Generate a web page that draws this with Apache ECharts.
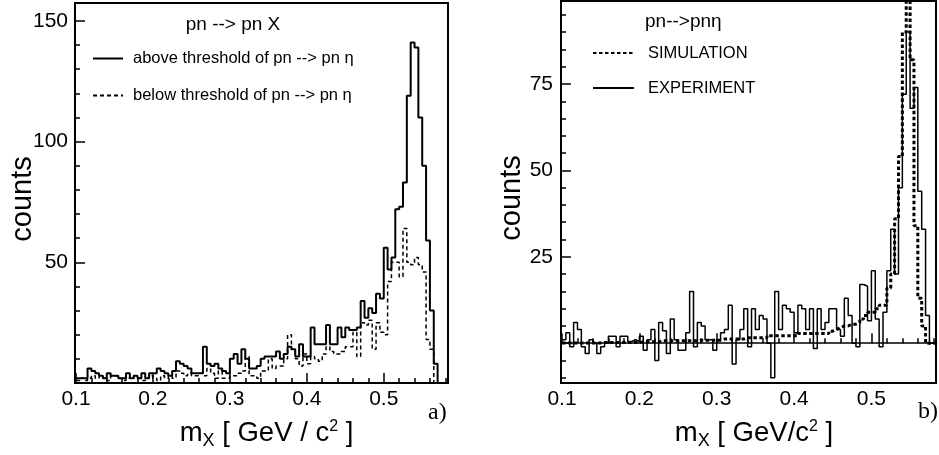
<!DOCTYPE html>
<html><head><meta charset="utf-8">
<script src="https://cdn.jsdelivr.net/npm/echarts@6/dist/echarts.min.js"></script>
<style>html,body{margin:0;padding:0;background:#fff}#c{width:939px;height:455px}</style>
</head><body><div id="c"></div>
<script>
// ---------- data (bin contents) ----------
const binWidth = 0.005;
const leftBinStart = 0.1;    // panel a) bins: 0.100 ... 0.580
const aboveThreshold = [2,2,2,6,5,4,3,2,4,3, 3,2,2,4,2,3,2,4,2,4, 4,6,5,4,3,5,9,8,7,6,
  4,4,4,15,8,7,8,6,5,4, 10,12,8,14,10,6,6,7,10,11, 11,11,13,10,12,15,14,11,16,11,
  11,23,16,16,16,24,16,16,23,19, 23,22,22,23,34,27,31,29,37,35, 56,47,52,72,73,83,119,141,139,110,
  90,59,30,8,0,0];
const belowThreshold = [1,2,1,2,3,2,3,2,1,3, 3,2,1,2,3,2,2,1,2,3, 2,1,3,2,3,2,5,4,3,4,
  3,3,4,3,6,4,2,5,2,2, 3,3,4,5,11,3,3,2,5,5, 10,6,7,7,10,20,14,10,7,12,
  8,11,10,9,12,15,13,12,12,13, 15,15,21,11,25,24,26,14,25,21, 20,42,50,50,44,64,50,49,52,49,
  46,18,14,0,0,0];
const rightBinStart = 0.1;   // panel b) bins: 0.100 ... 0.585
const experiment = [1,3,-1,6,4,-1,-3,1,0,-3, -1,0,2,2,-1,2,2,0.5,1,0.5, 2,-2,1,4,-5,6,3.6,-3,7,1,
  -2,-2,3,15,-1,6,5,1,1,-2, 1,3,4,11,-6,1,4,10,-1,10, 4,8,7,0,-10,15,4,11,10,9,
  3,11,10,4,10,-1.5,10,4,6,10, 10,4,2,13,8,0,-1,17,16.5,6.5, 21,7,-1,9,21,33,20,45,72,90,
  68,74,44,33,8,0,0];
const simulation = [0.1,0.1,0.1,0.1,0.1,0.1,0.1,0.1,0.1,0.1, 0.2,0.2,0.2,0.2,0.2,0.2,0.2,0.2,0.2,0.2,
  0.4,0.4,0.4,0.4,0.4,0.7,0.7,0.7,0.7,0.7, 0.7,0.7,0.7,0.7,0.7,0.9,0.9,0.9,0.9,0.9,
  0.9,1.2,1.2,1.2,1.2,1.2,1.2,1.6,1.6,1.6, 1.6,1.6,1.6,2.2,2.2,2.2,2.2,2.2,2.2,2.2,
  2.2,2.8,2.8,2.8,2.8,2.8,2.8,2.8,2.8,3.5, 4,4.5,5,5,5.5,5.5,6,7,8,9,
  9,10,11,11,16,20,36,54,90,125, 82,34,13,5,0,0,0];
const xTickLabels = [0.1, 0.2, 0.3, 0.4, 0.5];
const leftYTickLabels = [50, 100, 150];
const rightYTickLabels = [25, 50, 75];
const rightYMajorTicks = [0, 25, 50, 75];

// ---------- helpers ----------
function stepData(start, values) {
  const pts = values.map((v, i) => [+(start + i * binWidth).toFixed(4), v]);
  pts.push([+(start + values.length * binWidth).toFixed(4), values[values.length - 1]]);
  return pts;
}
function minorList(from, to, step, every) {
  const out = [];
  for (let i = from; i <= to; i++) if (i % every !== 0) out.push(+(i * step).toFixed(3));
  return out;
}
const xMinor = minorList(5, 29, 0.02, 5);
const leftYMinor = minorList(1, 15, 10, 5);
const rightYMinor = minorList(-2, 19, 5, 5);

const FONT = 'Liberation Sans, Arial, Helvetica, sans-serif';
const SERIF = 'Liberation Serif, DejaVu Serif, serif';
const XR = [0.0987, 0.5835];
const LY = [0, 157.4], RY = [-11.5, 99];

function majorX(grid, name, pad) {
  return {
    gridIndex: grid, type: 'value', position: 'bottom', min: XR[0], max: XR[1],
    axisLine: { show: false }, splitLine: { show: false },
    axisTick: { inside: true, length: 10, customValues: xTickLabels, lineStyle: { color: '#000', width: 1.5 } },
    axisLabel: { customValues: xTickLabels, formatter: v => v.toFixed(1), color: '#000', fontSize: 21, fontFamily: FONT, margin: 6 },
    name: name, nameLocation: 'middle', nameGap: 36,
    nameTextStyle: {
      color: '#000', fontFamily: FONT, padding: [0, 0, 0, pad],
      rich: {
        m: { fontSize: 27.5, fontFamily: FONT, color: '#000', verticalAlign: 'top', padding: [0, 0, 3, 0] },
        s: { fontSize: 18, fontFamily: FONT, color: '#000', verticalAlign: 'bottom' },
        p: { fontSize: 16, fontFamily: FONT, color: '#000', verticalAlign: 'top' }
      }
    }
  };
}
function minorX(grid) {
  return {
    gridIndex: grid, type: 'value', position: 'bottom', min: XR[0], max: XR[1],
    axisLine: { show: false }, splitLine: { show: false }, axisLabel: { show: false },
    axisTick: { inside: true, length: 5, customValues: xMinor, lineStyle: { color: '#000', width: 1.5 } }
  };
}
function majorY(grid, ext, ticks, labels, gap, margin) {
  return {
    gridIndex: grid, type: 'value', position: 'left', min: ext[0], max: ext[1],
    axisLine: { show: false }, splitLine: { show: false },
    axisTick: { inside: true, length: 10, customValues: ticks, lineStyle: { color: '#000', width: 1.5 } },
    axisLabel: { customValues: labels, color: '#000', fontSize: 21, fontFamily: FONT, margin: margin },
    name: 'counts', nameLocation: 'middle', nameRotate: 90, nameGap: gap, nameMoveOverlap: false,
    nameTextStyle: { color: '#000', fontSize: 29, fontFamily: FONT, padding: [0, 12, 0, 0] }
  };
}
function minorY(grid, ext, list) {
  return {
    gridIndex: grid, type: 'value', position: 'left', min: ext[0], max: ext[1],
    axisLine: { show: false }, splitLine: { show: false }, axisLabel: { show: false },
    axisTick: { inside: true, length: 5, customValues: list, lineStyle: { color: '#000', width: 1.5 } }
  };
}

const chart = echarts.init(document.getElementById('c'), null, { renderer: 'canvas' });
chart.setOption({
  animation: false,
  backgroundColor: '#fff',
  grid: [
    { left: 75, top: 3, width: 373, height: 384.5, show: true, borderColor: '#000', borderWidth: 2 },
    { left: 561, top: 1, width: 375, height: 387, show: true, borderColor: '#000', borderWidth: 2 }
  ],
  xAxis: [
    majorX(0, '{m|m}{s|X}{m| [ GeV / c}{p|2}{m| ]}', 10),
    minorX(0),
    majorX(1, '{m|m}{s|X}{m| [ GeV/c}{p|2}{m| ]}', 11),
    minorX(1)
  ],
  yAxis: [
    majorY(0, LY, leftYTickLabels, leftYTickLabels, 38, 7),
    minorY(0, LY, leftYMinor),
    majorY(1, RY, rightYMajorTicks, rightYTickLabels, 35, 8),
    minorY(1, RY, rightYMinor)
  ],
  legend: [
    {
      data: ['above threshold of pn --> pn η', 'below threshold of pn --> pn η'],
      left: 92, top: 50, padding: 0, orient: 'vertical', itemWidth: 30, itemHeight: 17, itemGap: 20,
      itemStyle: { opacity: 0 },
      selectedMode: false, textStyle: { color: '#000', fontSize: 16.5, fontFamily: FONT, padding: [0, 0, 0, 5] }
    },
    {
      data: ['SIMULATION', 'EXPERIMENT'],
      left: 592, top: 44.5, padding: 0, orient: 'vertical', itemWidth: 41, itemHeight: 17, itemGap: 18,
      itemStyle: { opacity: 0 },
      selectedMode: false, textStyle: { color: '#000', fontSize: 16.5, fontFamily: FONT, padding: [0, 0, 0, 9] }
    }
  ],
  graphic: [
    { type: 'text', x: 233, y: 25, style: { text: 'pn --> pn X', fontSize: 19, fontFamily: FONT, fill: '#000', align: 'center', verticalAlign: 'middle' } },
    { type: 'text', x: 645, y: 22, style: { text: 'pn-->pnη', fontSize: 19, fontFamily: FONT, fill: '#000', align: 'left', verticalAlign: 'middle' } },
    { type: 'text', x: 428, y: 413, style: { text: 'a)', fontSize: 24, fontFamily: SERIF, fill: '#000', align: 'left', verticalAlign: 'middle' } },
    { type: 'text', x: 918, y: 412, style: { text: 'b)', fontSize: 24, fontFamily: SERIF, fill: '#000', align: 'left', verticalAlign: 'middle' } }
  ],
  series: [
    {
      name: 'below threshold of pn --> pn η', type: 'line', xAxisIndex: 0, yAxisIndex: 0,
      step: 'end', symbol: 'none', data: stepData(leftBinStart, belowThreshold),
      lineStyle: { color: '#000', width: 1.5, type: [4, 3] }, itemStyle: { color: '#000' }
    },
    {
      name: 'above threshold of pn --> pn η', type: 'line', xAxisIndex: 0, yAxisIndex: 0,
      step: 'end', symbol: 'none', data: stepData(leftBinStart, aboveThreshold),
      lineStyle: { color: '#000', width: 2 }, itemStyle: { color: '#000' }
    },
    {
      name: 'SIMULATION', type: 'line', xAxisIndex: 2, yAxisIndex: 2,
      step: 'end', symbol: 'none', data: stepData(rightBinStart, simulation),
      lineStyle: { color: '#000', width: 3, type: [3.5, 2.5] }, itemStyle: { color: '#000' }
    },
    {
      name: 'EXPERIMENT', type: 'line', xAxisIndex: 2, yAxisIndex: 2,
      step: 'end', symbol: 'none', data: stepData(rightBinStart, experiment),
      lineStyle: { color: '#000', width: 1.5 }, itemStyle: { color: '#000' },
      markLine: { silent: true, symbol: ['none', 'none'], label: { show: false },
        lineStyle: { color: '#000', width: 1.5, type: 'solid' }, data: [{ yAxis: 0 }] }
    }
  ]
});
</script></body></html>
